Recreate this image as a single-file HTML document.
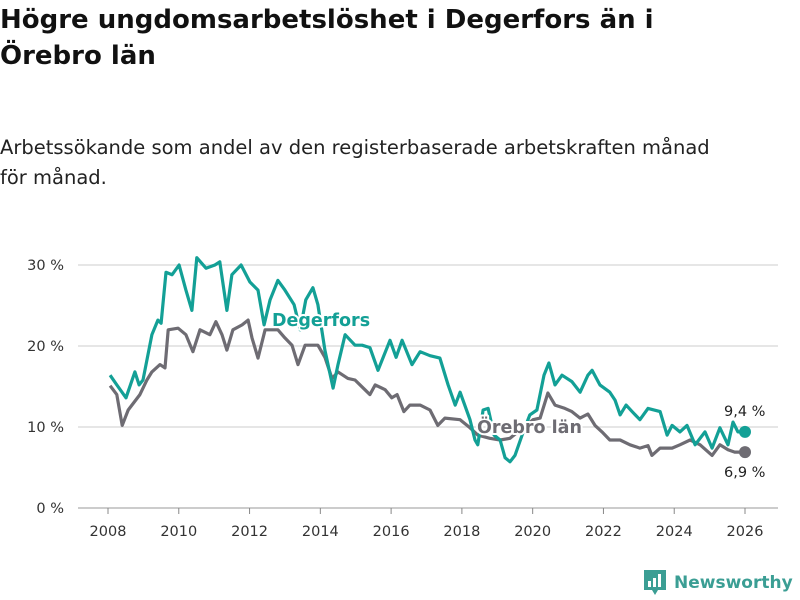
<!DOCTYPE html>
<html><head><meta charset="utf-8">
<style>
body{margin:0;background:#fff;width:800px;height:600px;overflow:hidden;font-family:"DejaVu Sans","Liberation Sans",sans-serif;color:#111}
h1{position:absolute;left:0;top:2px;margin:0;font-size:26px;line-height:36px;font-weight:bold;width:760px}
p.sub{position:absolute;left:0;top:133px;margin:0;font-size:19.5px;line-height:30px;width:730px;color:#222}
svg{position:absolute;left:0;top:0}
</style></head><body>
<h1>Högre ungdomsarbetslöshet i Degerfors än i Örebro län</h1>
<p class="sub">Arbetssökande som andel av den registerbaserade arbetskraften månad för månad.</p>
<svg id="c" width="800" height="600"></svg>
<script>
const xTicks=[2008,2010,2012,2014,2016,2018,2020,2022,2024,2026];
const yTicks=[0,10,20,30];
const degYears=[2008.06,2008.25,2008.51,2008.76,2008.88,2008.99,2009.24,2009.41,2009.5,2009.64,2009.81,2010.01,2010.2,2010.37,2010.51,2010.77,2011.02,2011.16,2011.36,2011.5,2011.76,2012.01,2012.24,2012.41,2012.58,2012.8,2013.0,2013.26,2013.43,2013.59,2013.79,2013.93,2014.13,2014.36,2014.5,2014.7,2014.98,2015.18,2015.4,2015.63,2015.97,2016.14,2016.31,2016.59,2016.82,2017.1,2017.38,2017.61,2017.81,2017.95,2018.23,2018.37,2018.45,2018.6,2018.74,2018.91,2019.08,2019.22,2019.36,2019.5,2019.7,2019.92,2020.12,2020.32,2020.46,2020.63,2020.83,2021.11,2021.34,2021.56,2021.68,2021.9,2022.18,2022.33,2022.47,2022.64,2022.81,2023.03,2023.26,2023.6,2023.8,2023.94,2024.16,2024.36,2024.59,2024.87,2025.07,2025.29,2025.52,2025.66,2025.8,2026.0];
const degValues=[16.4,15.2,13.6,16.8,15.2,15.8,21.4,23.2,22.8,29.1,28.8,30.0,26.9,24.4,30.9,29.6,30.0,30.4,24.4,28.8,30.0,27.9,26.9,22.6,25.7,28.1,26.9,25.1,22.0,25.7,27.2,25.1,19.5,14.8,17.7,21.4,20.1,20.1,19.8,17.0,20.7,18.6,20.7,17.7,19.3,18.8,18.5,15.2,12.7,14.3,10.9,8.4,7.8,12.1,12.3,9.0,8.4,6.2,5.7,6.5,9.0,11.5,12.1,16.4,17.9,15.2,16.4,15.6,14.3,16.4,17.0,15.2,14.3,13.3,11.5,12.7,11.9,10.9,12.3,11.9,9.0,10.2,9.4,10.2,7.8,9.4,7.4,9.9,7.8,10.6,9.4,9.4];
const oreYears=[2008.06,2008.25,2008.4,2008.57,2008.9,2009.1,2009.24,2009.47,2009.61,2009.7,2009.98,2010.2,2010.4,2010.6,2010.88,2011.05,2011.22,2011.36,2011.53,2011.79,2011.96,2012.07,2012.24,2012.44,2012.8,2013.0,2013.2,2013.37,2013.57,2013.93,2014.13,2014.33,2014.5,2014.78,2014.98,2015.26,2015.4,2015.55,2015.83,2016.02,2016.17,2016.36,2016.53,2016.82,2017.1,2017.32,2017.52,2017.95,2018.23,2018.45,2018.79,2019.08,2019.36,2019.64,2020.01,2020.21,2020.43,2020.63,2020.91,2021.11,2021.34,2021.56,2021.76,2021.96,2022.18,2022.47,2022.75,2023.03,2023.26,2023.37,2023.6,2023.94,2024.16,2024.45,2024.73,2025.07,2025.29,2025.52,2025.71,2026.0];
const oreValues=[15.1,14.0,10.2,12.1,14.0,15.8,16.8,17.7,17.3,22.0,22.2,21.4,19.3,22.0,21.4,23.0,21.4,19.5,22.0,22.6,23.2,21.0,18.5,22.0,22.0,21.0,20.1,17.7,20.1,20.1,18.6,16.0,16.8,16.0,15.8,14.6,14.0,15.2,14.6,13.6,14.0,11.9,12.7,12.7,12.1,10.2,11.1,10.9,9.9,9.0,8.6,8.4,8.6,9.6,10.9,11.1,14.2,12.7,12.3,11.9,11.1,11.6,10.2,9.4,8.4,8.4,7.8,7.4,7.7,6.5,7.4,7.4,7.8,8.4,7.8,6.5,7.8,7.2,6.9,6.9];
const NS='http://www.w3.org/2000/svg';
const svg=document.getElementById('c');
const X=y=>108+(y-2008)*(745-108)/18;
const Y=v=>508-v*8.1;
function mk(t,a,p){const e=document.createElementNS(NS,t);for(const k in a)e.setAttribute(k,a[k]);(p||svg).appendChild(e);return e;}
yTicks.forEach(v=>{
  const l=mk('line',{x1:78,x2:778,y1:Y(v),y2:Y(v),stroke:v===0?'#bbb':'#ddd','stroke-width':1.5});
  
  
  const t=mk('text',{x:64,y:Y(v)+5,'text-anchor':'end','font-size':14.5,fill:'#333'});
  t.textContent=v+' %';
  
  
});
xTicks.forEach(yr=>{
  const l=mk('line',{x1:X(yr),x2:X(yr),y1:508,y2:514,stroke:'#888','stroke-width':1});
  
  
  const t=mk('text',{x:X(yr),y:536,'text-anchor':'middle','font-size':14.5,fill:'#333'});
  t.textContent=yr;
  
  
});
function line(ys,vs,col,name){
  const d=ys.map((y,i)=>(i?'L':'M')+X(y).toFixed(1)+','+Y(vs[i]).toFixed(1)).join('');
  const p=mk('path',{d:d,fill:'none',stroke:col,'stroke-width':3.2,'stroke-linejoin':'round'});
  
  
  const n=ys.length-1;
  const c=mk('circle',{cx:X(ys[n]),cy:Y(vs[n]),r:6,fill:col});
  
  
}
line(oreYears,oreValues,'#6e6c73','orebro');
line(degYears,degValues,'#13a096','degerfors');
function lab(x,y,s,col,name,size,w){
  const t=mk('text',{x:x,y:y,'font-size':size,'font-weight':w,fill:col,stroke:'#fff','stroke-width':4,'paint-order':'stroke','stroke-linejoin':'round'});
  t.textContent=s;
  
  
}
lab(272,326,'Degerfors','#13a096','degerfors-label',17.5,'bold');
lab(477,433,'Örebro län','#6e6c73','orebro-label',17.5,'bold');
const dn=degValues.length-1, on=oreValues.length-1;
lab(724,416,degValues[dn].toFixed(1).replace('.',',')+' %','#222','degerfors-end-value',14.5,'normal');
lab(724,477,oreValues[on].toFixed(1).replace('.',',')+' %','#222','orebro-end-value',14.5,'normal');
</script>
<div style="position:absolute;left:644px;top:570px;height:26px;display:flex;align-items:center">
<svg width="22" height="26" viewBox="0 0 22 26" style="position:static"><path d="M0 0H22V20H14L11 25L8 20H0Z" fill="#3b9e94"/><rect x="4" y="11" width="3" height="6" fill="#fff"/><rect x="9" y="8" width="3" height="9" fill="#fff"/><rect x="14" y="4" width="3" height="13" fill="#fff"/></svg>
<span style="margin-left:8px;font-size:17px;font-weight:bold;color:#3b9e94">Newsworthy</span></div>
</body></html>
